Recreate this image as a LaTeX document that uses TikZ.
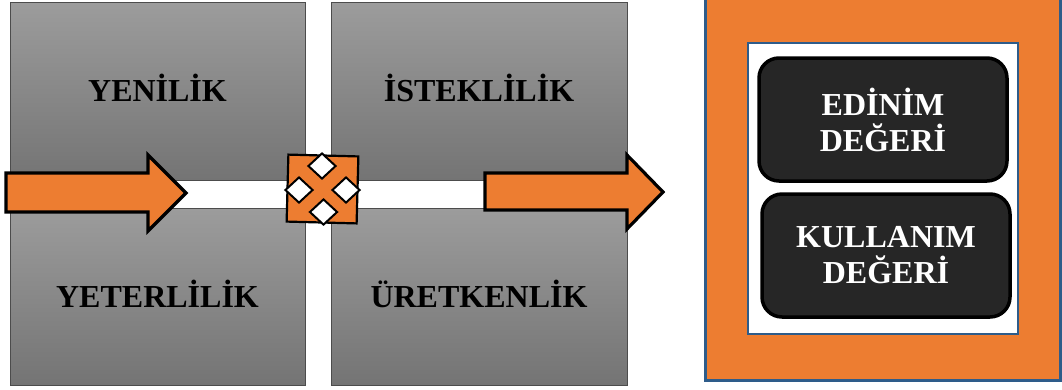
\documentclass[tikz,border=0pt]{standalone}
\usepackage{fontspec}
\setmainfont{Liberation Serif}
\usetikzlibrary{shapes.geometric}
\definecolor{offorange}{HTML}{ED7D31}
\definecolor{offblue}{HTML}{2E5C8A}
\definecolor{darkfill}{HTML}{262626}
\definecolor{graytop}{HTML}{9C9C9C}
\definecolor{graybot}{HTML}{747474}
\tikzset{
  graybox/.style={rectangle, draw=black!70, line width=0.8pt, top color=graytop, bottom color=graybot,
    minimum width=295pt, inner sep=0pt, font=\fontsize{32}{36}\selectfont\bfseries,
    text height=21pt, text depth=0pt},
  orangearrow/.style={fill=offorange, draw=black, line width=3.2pt, line join=miter},
  darkbox/.style={rectangle, rounded corners=20pt, draw=black, line width=3.5pt, fill=darkfill,
    text=white, align=center, font=\fontsize{32}{36}\selectfont\bfseries,
    minimum width=248pt, minimum height=123pt, inner sep=0pt},
  diam/.style={diamond, draw=black, line width=2pt, fill=white, minimum width=28pt, minimum height=26pt, inner sep=0pt}
}
\begin{document}
\begin{tikzpicture}[x=1pt,y=-1pt]
\useasboundingbox (0,0) rectangle (1062,389);
% gray boxes
\node[graybox, minimum height=178pt] (yen) at (157.5,91) {YENİLİK};
\node[graybox, minimum height=177pt] (yet) at (157.5,296.5) {YETERLİLİK};
\node[graybox, minimum width=296pt, minimum height=178pt] (ist) at (479,91) {İSTEKLİLİK};
\node[graybox, minimum width=296pt, minimum height=177pt] (ure) at (479,296.5) {ÜRETKENLİK};
% arrows
\draw[orangearrow] (6,173) -- (148,173) -- (148,155) -- (186,193) -- (148,231) -- (148,212) -- (6,212) -- cycle;
\draw[orangearrow] (485,173) -- (627,173) -- (627,155) -- (663,192) -- (627,229) -- (627,210) -- (485,210) -- cycle;
% center cross
\node[rectangle, draw=black, line width=2.2pt, fill=offorange, minimum width=70pt, minimum height=67pt, rotate=-1.5] (cross) at (322.5,189) {};
\node[diam] (dt) at (322,166) {};
\node[diam] (db) at (323.5,212) {};
\node[diam] (dl) at (299,190) {};
\node[diam] (dr) at (346,190) {};
% right panel
\draw[fill=offorange, draw=offblue, line width=3pt] (705,-5) rectangle (1060,380);
\draw[fill=white, draw=offblue, line width=1.6pt] (748,43) rectangle (1018,334);
\node[darkbox] (edinim) at (883,119.5) {EDİNİM\\DEĞERİ};
\node[darkbox] (kullanim) at (886,255.5) {KULLANIM\\DEĞERİ};
\end{tikzpicture}
\end{document}
